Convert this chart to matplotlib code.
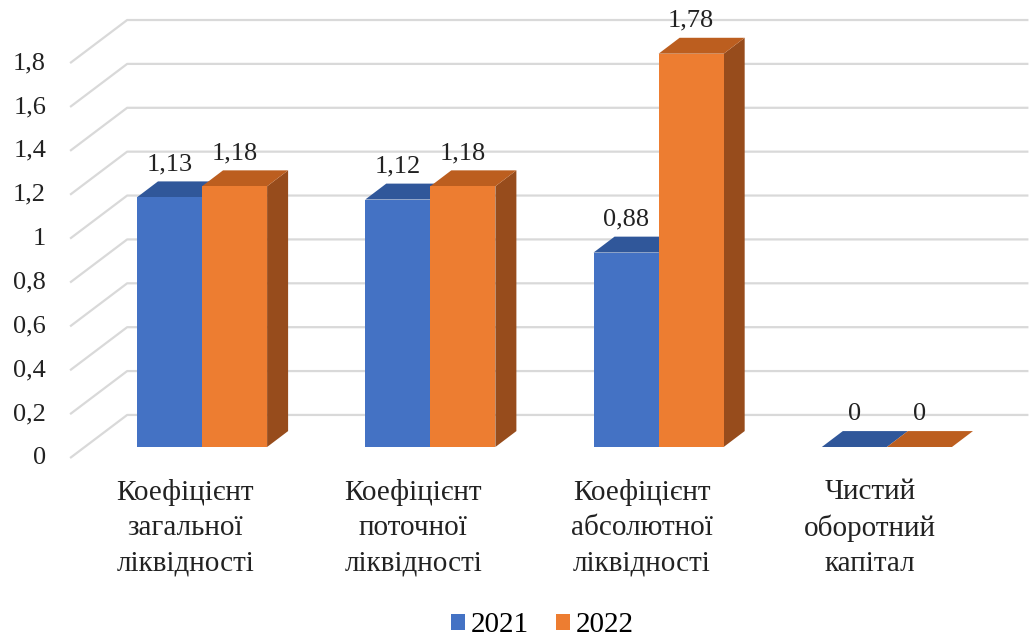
import matplotlib

matplotlib.use("Agg")
import matplotlib.pyplot as plt
from matplotlib.patches import Polygon, Patch

plt.rcParams["font.family"] = ["Liberation Serif", "DejaVu Serif"]

categories = [
    "Коефіцієнт\nзагальної\nліквідності",
    "Коефіцієнт\nпоточної\nліквідності",
    "Коефіцієнт\nабсолютної\nліквідності",
    "Чистий\nоборотний\nкапітал",
]
series_names = ["2021", "2022"]
values_2021 = [1.13, 1.12, 0.88, 0]
values_2022 = [1.18, 1.18, 1.78, 0]
y_ticks = [0, 0.2, 0.4, 0.6, 0.8, 1.0, 1.2, 1.4, 1.6, 1.8]
y_tick_labels = ["0", "0,2", "0,4", "0,6", "0,8", "1", "1,2", "1,4", "1,6", "1,8"]

FRONT = {"2021": "#4472C4", "2022": "#ED7D31"}
TOP = {"2021": "#30579A", "2022": "#BC5E1F"}
SIDE = {"2021": "#2E4F8C", "2022": "#974C1C"}

BAR_W = 0.285
DX, DY = 0.092, 0.072          # bar depth offset
GDX, GDY = 0.25, 0.195         # side-wall depth for gridlines
GRID_X0, GRID_X1 = -0.578, 3.62
FLOOR, GSCALE = -0.05, 0.993

fig = plt.figure(figsize=(10.33, 6.39), dpi=100)
ax = fig.add_axes([0, 0, 1, 1])
ax.set_xlim(-0.885, 3.64)
ax.set_ylim(-0.869, 2.023)
ax.axis("off")

# back wall + side wall gridlines
for v, lab in zip(y_ticks, y_tick_labels):
    gy = FLOOR + v * GSCALE
    ax.plot([GRID_X0, GRID_X0 + GDX, GRID_X1], [gy, gy + GDY, gy + GDY],
            color="#D9D9D9", lw=1.6, zorder=1, solid_capstyle="butt")
    ax.text(-0.683, gy, lab, ha="right", va="center", fontsize=19, color="#222222")


def draw_bar(x_left, h, name):
    x_right = x_left + BAR_W
    # side
    ax.add_patch(Polygon([(x_right, 0), (x_right + DX, DY), (x_right + DX, h + DY), (x_right, h)],
                         closed=True, facecolor=SIDE[name], edgecolor="none", zorder=3))
    # top
    ax.add_patch(Polygon([(x_left, h), (x_left + DX, h + DY), (x_right + DX, h + DY), (x_right, h)],
                         closed=True, facecolor=TOP[name], edgecolor="none", zorder=3))
    # front
    if h > 0:
        ax.add_patch(Polygon([(x_left, 0), (x_right, 0), (x_right, h), (x_left, h)],
                             closed=True, facecolor=FRONT[name], edgecolor="none", zorder=3))
    label = f"{h:.2f}".replace(".", ",") if h else "0"
    ax.text(x_left + BAR_W / 2, h + 0.15, label, ha="center", va="center",
            fontsize=19, color="#222222", zorder=5)


for i, (a, b) in enumerate(zip(values_2021, values_2022)):
    draw_bar(i - BAR_W, a, "2021")
    draw_bar(i, b, "2022")
    ax.text(i - 0.074, -0.145, categories[i], ha="center", va="top",
            fontsize=21, color="#222222", linespacing=1.45)

handles = [Patch(facecolor=FRONT[n], edgecolor="none", label=n) for n in series_names]
fig.legend(handles=handles, loc="lower center", bbox_to_anchor=(0.525, -0.04), ncol=2,
           frameon=False, fontsize=21, handlelength=0.5, handleheight=0.5,
           handletextpad=0.2, columnspacing=0.9)

fig.savefig("out.png", dpi=100)
